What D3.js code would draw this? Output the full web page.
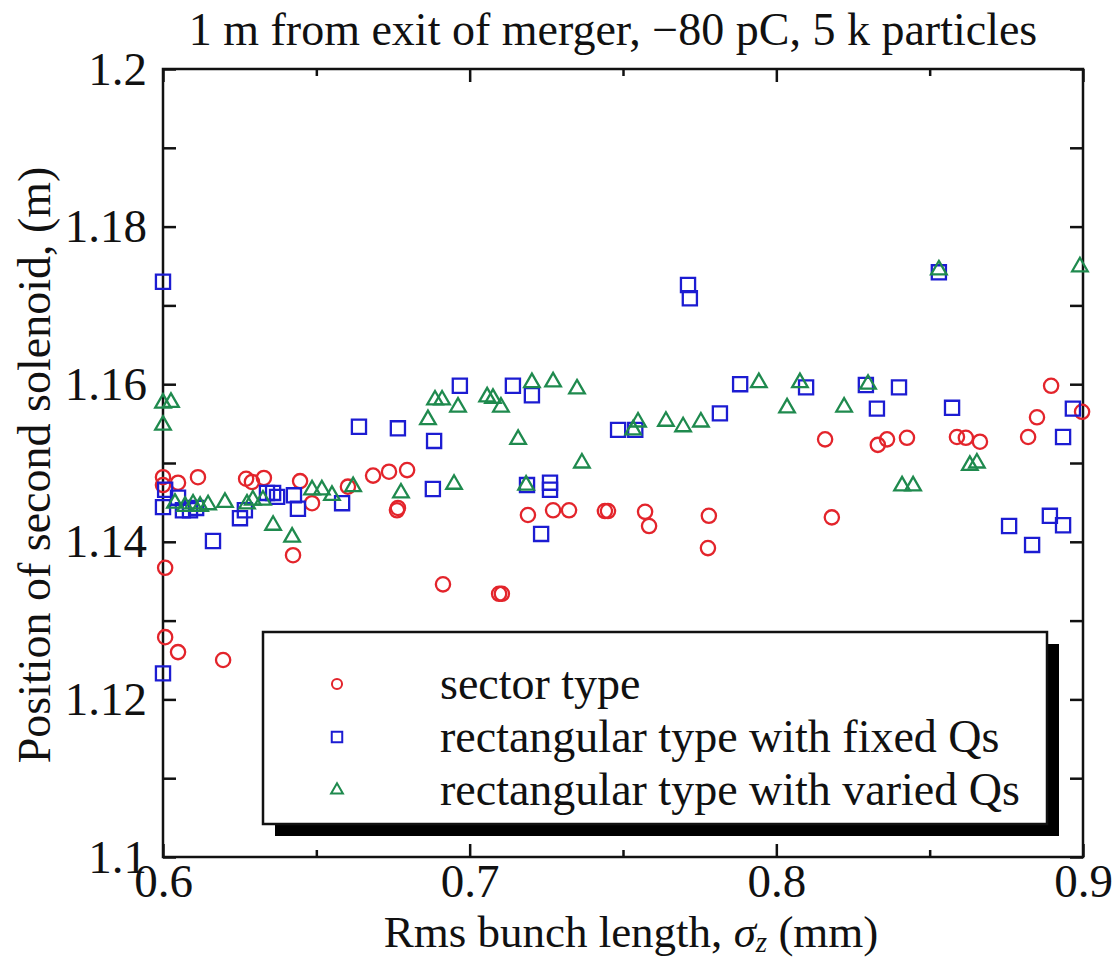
<!DOCTYPE html>
<html lang="en">
<head>
<meta charset="UTF-8">
<title>Position of second solenoid vs rms bunch length</title>
<script src="https://cdn.jsdelivr.net/npm/d3@7"></script>
<style>
  body { margin:0; background:#fff; }
  svg text { font-family:"Liberation Serif","Times New Roman",serif; fill:#111; }
</style>
</head>
<body>
<svg id="chart" width="1112" height="960"></svg>
<script>
// ---- data: [sigma_z (mm), position (m)] ----
var sectorPts = [
  [0.6000,1.1482],[0.6000,1.1472],[0.6049,1.1475],[0.6114,1.1482],[0.6271,1.1480],
  [0.6290,1.1476],[0.6329,1.1481],[0.6447,1.1477],[0.6486,1.1449],[0.6603,1.1470],
  [0.6685,1.1484],[0.6737,1.1489],[0.6796,1.1491],[0.6766,1.1443],[0.6763,1.1440],
  [0.7190,1.1434],[0.7272,1.1440],[0.7324,1.1440],[0.7441,1.1439],[0.7451,1.1439],
  [0.7572,1.1438],[0.7585,1.1420],[0.7780,1.1433],[0.7777,1.1392],[0.8159,1.1530],
  [0.8181,1.1431],[0.8331,1.1523],[0.8361,1.1530],[0.8426,1.1532],[0.8589,1.1533],
  [0.8618,1.1532],[0.8664,1.1527],[0.8821,1.1533],[0.8850,1.1558],[0.8896,1.1598],
  [0.8997,1.1565],[0.6007,1.1367],[0.6424,1.1383],[0.6913,1.1346],[0.7105,1.1334],
  [0.7096,1.1334],[0.6007,1.1279],[0.6049,1.1260],[0.6196,1.1250]
];
var fixedQsPts = [
  [0.6000,1.1730],[0.6007,1.1466],[0.6000,1.1444],[0.6049,1.1456],[0.6065,1.1440],
  [0.6088,1.1440],[0.6108,1.1443],[0.6163,1.1401],[0.6251,1.1430],[0.6267,1.1440],
  [0.6339,1.1462],[0.6359,1.1462],[0.6372,1.1457],[0.6427,1.1459],[0.6440,1.1442],
  [0.6584,1.1449],[0.6000,1.1233],[0.6639,1.1546],[0.6766,1.1544],[0.6884,1.1528],
  [0.6880,1.1467],[0.6968,1.1598],[0.7141,1.1598],[0.7203,1.1586],[0.7187,1.1472],
  [0.7262,1.1475],[0.7262,1.1466],[0.7233,1.1410],[0.7484,1.1542],[0.7540,1.1542],
  [0.7712,1.1726],[0.7718,1.1709],[0.7816,1.1563],[0.7882,1.1600],[0.8097,1.1596],
  [0.8292,1.1599],[0.8328,1.1569],[0.8400,1.1596],[0.8530,1.1742],[0.8573,1.1570],
  [0.8759,1.1420],[0.8834,1.1396],[0.8892,1.1433],[0.8935,1.1421],[0.8935,1.1533],
  [0.8967,1.1569]
];
var variedQsPts = [
  [0.6000,1.1576],[0.6026,1.1577],[0.6000,1.1548],[0.6039,1.1449],[0.6072,1.1445],
  [0.6098,1.1448],[0.6121,1.1445],[0.6147,1.1447],[0.6202,1.1450],[0.6274,1.1448],
  [0.6293,1.1453],[0.6326,1.1453],[0.6359,1.1421],[0.6421,1.1406],[0.6486,1.1466],
  [0.6518,1.1466],[0.6551,1.1459],[0.6620,1.1470],[0.6776,1.1462],[0.6864,1.1555],
  [0.6887,1.1580],[0.6910,1.1580],[0.6962,1.1571],[0.6949,1.1473],[0.7057,1.1584],
  [0.7076,1.1582],[0.7102,1.1571],[0.7158,1.1530],[0.7184,1.1472],[0.7203,1.1602],
  [0.7272,1.1603],[0.7350,1.1594],[0.7366,1.1500],[0.7549,1.1552],[0.7533,1.1542],
  [0.7640,1.1553],[0.7696,1.1546],[0.7754,1.1552],[0.7943,1.1602],[0.8035,1.1570],
  [0.8077,1.1602],[0.8221,1.1571],[0.8299,1.1600],[0.8530,1.1745],[0.8990,1.1749],
  [0.8631,1.1497],[0.8654,1.1500],[0.8410,1.1471],[0.8446,1.1471]
];
var seriesNames = ["sector type", "rectangular type with fixed Qs", "rectangular type with varied Qs"];
var xMajorTicks = [0.6, 0.7, 0.8, 0.9];
var xMinorTicks = [0.65, 0.75, 0.85];
var yLabelTicks = [1.1, 1.12, 1.14, 1.16, 1.18, 1.2];
var yMinorTicks = [1.11, 1.13, 1.15, 1.17, 1.19];
var chartTitle = "1 m from exit of merger, \u221280 pC, 5 k particles";

var red = "#e3242b", blue = "#1c1cd2", green = "#1f8a4e";

var margin = { top:69, right:29, bottom:103, left:163 };
var svg = d3.select("#chart");
var width = +svg.attr("width") - margin.left - margin.right;
var height = +svg.attr("height") - margin.top - margin.bottom;

var x = d3.scaleLinear().domain([0.6, 0.9]).range([0, width]);
var y = d3.scaleLinear().domain([1.1, 1.2]).range([height, 0]);

var g = svg.append("g").attr("transform", `translate(${margin.left},${margin.top})`);

// title
svg.append("text")
  .attr("x", margin.left + width / 2 - 10).attr("y", 45)
  .attr("text-anchor", "middle")
  .style("font-size", "46px")
  .text(chartTitle);

// axes - ticks point inward on all four sides
function styleAxis(sel) {
  sel.select(".domain").remove();
  sel.selectAll(".tick line").attr("stroke", "#111").attr("stroke-width", 2.5);
  sel.selectAll(".tick text").style("font-size", "47px").attr("fill", "#111");
}
var fmtY = d => String(+d.toFixed(2));

g.append("g").attr("transform", `translate(0,${height})`)
  .call(d3.axisBottom(x).tickValues(xMajorTicks).tickSize(-13).tickPadding(7).tickFormat(d => d.toFixed(1)))
  .call(styleAxis);
g.append("g").attr("transform", `translate(0,${height})`)
  .call(d3.axisBottom(x).tickValues(xMinorTicks).tickSize(-7).tickFormat(""))
  .call(styleAxis);
g.append("g")
  .call(d3.axisTop(x).tickValues(xMajorTicks).tickSize(-13).tickFormat(""))
  .call(styleAxis);
g.append("g")
  .call(d3.axisTop(x).tickValues(xMinorTicks).tickSize(-7).tickFormat(""))
  .call(styleAxis);

g.append("g")
  .call(d3.axisLeft(y).tickValues(yLabelTicks).tickSize(-13).tickPadding(16).tickFormat(fmtY))
  .call(styleAxis);
g.append("g")
  .call(d3.axisLeft(y).tickValues(yMinorTicks).tickSize(-13).tickFormat(""))
  .call(styleAxis);
g.append("g").attr("transform", `translate(${width},0)`)
  .call(d3.axisRight(y).tickValues(yLabelTicks.concat(yMinorTicks)).tickSize(-13).tickFormat(""))
  .call(styleAxis);

// frame
g.append("rect")
  .attr("width", width).attr("height", height)
  .attr("fill", "none").attr("stroke", "#111").attr("stroke-width", 2.5);

// axis titles
var xt = svg.append("text")
  .attr("x", margin.left + width / 2 + 8).attr("y", 947)
  .attr("text-anchor", "middle")
  .style("font-size", "45px");
xt.append("tspan").text("Rms bunch length, ");
xt.append("tspan").style("font-style", "italic").text("\u03c3");
xt.append("tspan").style("font-style", "italic").style("font-size", "29px").attr("dy", 5).text("z");
xt.append("tspan").attr("dy", -5).text(" (mm)");

svg.append("text")
  .attr("transform", `translate(50,${margin.top + height / 2 + 2}) rotate(-90)`)
  .attr("text-anchor", "middle")
  .style("font-size", "46px")
  .text("Position of second solenoid, (m)");

// marker shapes
var circleSym = d3.symbol().type(d3.symbolCircle).size(160);
var squareSym = d3.symbol().type(d3.symbolSquare).size(200);
var triSym = d3.symbol().type(d3.symbolTriangle).size(105);

function drawSeries(pts, sym, color) {
  g.append("g").selectAll("path").data(pts).join("path")
    .attr("transform", d => `translate(${x(d[0])},${y(d[1])})`)
    .attr("d", sym)
    .attr("fill", "none")
    .attr("stroke", color)
    .attr("stroke-width", 2.3);
}
drawSeries(sectorPts, circleSym, red);
drawSeries(fixedQsPts, squareSym, blue);
drawSeries(variedQsPts, triSym, green);

// legend with drop shadow
var lg = svg.append("g").attr("transform", "translate(263,632)");
var lw = 784, lh = 192;
lg.append("rect").attr("x", 12).attr("y", 12).attr("width", lw).attr("height", lh).attr("fill", "#000");
lg.append("rect").attr("width", lw).attr("height", lh).attr("fill", "#fff").attr("stroke", "#111").attr("stroke-width", 2.5);

var legendSyms = [
  d3.symbol().type(d3.symbolCircle).size(80),
  d3.symbol().type(d3.symbolSquare).size(110),
  d3.symbol().type(d3.symbolTriangle).size(60)
];
var legendColors = [red, blue, green];
var row = lg.selectAll("g.row").data(seriesNames).join("g")
  .attr("class", "row")
  .attr("transform", (d, i) => `translate(0,${52 + i * 53})`);
row.append("path")
  .attr("transform", "translate(74,0)")
  .attr("d", (d, i) => legendSyms[i]())
  .attr("fill", "none")
  .attr("stroke", (d, i) => legendColors[i])
  .attr("stroke-width", 2);
row.append("text")
  .attr("x", 177).attr("y", 15)
  .style("font-size", "46px")
  .text(d => d);
</script>
</body>
</html>
